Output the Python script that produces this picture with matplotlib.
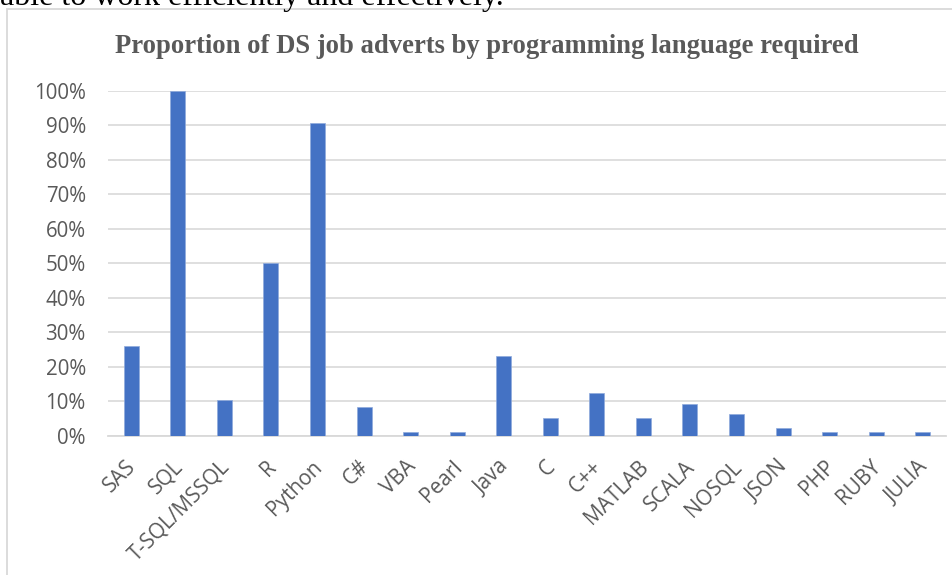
import matplotlib
matplotlib.use("Agg")
import matplotlib.pyplot as plt
from matplotlib.patches import Rectangle
from matplotlib.ticker import FuncFormatter, MultipleLocator

languages = ["SAS", "SQL", "T-SQL/MSSQL", "R", "Python", "C#", "VBA", "Pearl",
             "Java", "C", "C++", "MATLAB", "SCALA", "NOSQL", "JSON", "PHP",
             "RUBY", "JULIA"]
share = [0.26, 1.00, 0.104, 0.50, 0.908, 0.083, 0.01, 0.01,
         0.23, 0.052, 0.125, 0.052, 0.093, 0.062, 0.021, 0.01, 0.01, 0.01]
title = "Proportion of DS job adverts by programming language required"
body_tail = "able to work efficiently and effectively."

W, H = 952, 575
fig = plt.figure(figsize=(W / 100, H / 100), dpi=100)
fig.patch.set_facecolor("white")

# trailing line of the surrounding document text, cut off at the top edge
fig.text(0, 1 - 5 / H, body_tail, family="Liberation Serif", fontsize=23,
         color="black", ha="left", va="baseline")

# chart frame
frame = Rectangle((7 / W, -0.1), 1.2, 1 - 9 / H + 0.1, transform=fig.transFigure,
                  facecolor="none", edgecolor="#D9D9D9", linewidth=1.3)
fig.add_artist(frame)

left, right = 108, 946
top, bottom = 91, 435.7
ax = fig.add_axes([left / W, (H - bottom) / H, (right - left) / W, (bottom - top) / H])

x = range(len(languages))
ax.bar(x, share, width=0.32, color="#4472C4", edgecolor="#8FAADC",
       linewidth=0.5, zorder=3)

ax.set_xlim(-0.5, len(languages) - 0.5)
ax.set_ylim(0, 1.0)
ax.yaxis.set_major_locator(MultipleLocator(0.1))
ax.yaxis.set_major_formatter(FuncFormatter(lambda v, _: f"{v * 100:.0f}%"))
ax.grid(axis="y", color="#D9D9D9", linewidth=1.2, zorder=0)
ax.set_axisbelow(True)

for side in ("top", "right", "left"):
    ax.spines[side].set_visible(False)
ax.spines["bottom"].set_color("#D9D9D9")
ax.spines["bottom"].set_linewidth(1.3)

ax.tick_params(axis="both", length=0, colors="#595959")
ax.tick_params(axis="y", pad=16)
for lab in ax.get_yticklabels():
    lab.set_family("Open Sans")
    lab.set_fontsize(14.8)

ax.set_xticks(list(x))
ax.set_xticklabels(languages, rotation=45, ha="right", va="center_baseline",
                   rotation_mode="anchor", family="Open Sans", fontsize=15,
                   color="#595959")
ax.tick_params(axis="x", pad=19)

fig.text((115 + 858) / 2 / W, 1 - 53 / H, title, family="Liberation Serif",
         fontweight="bold", fontsize=19.2, color="#595959",
         ha="center", va="baseline")

fig.savefig("out.png", dpi=100, facecolor="white")
